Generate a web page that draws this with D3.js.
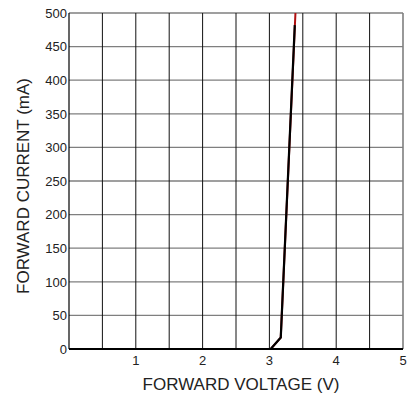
<!DOCTYPE html>
<html><head><meta charset="utf-8">
<script src="https://cdn.jsdelivr.net/npm/d3@7"></script>
<style>body{margin:0;background:#fff}svg{display:block}text{font-family:"Liberation Sans",Arial,sans-serif;fill:#222}</style>
</head><body>
<script>
const xTicks = [1, 2, 3, 4, 5];
const yTicks = [0, 50, 100, 150, 200, 250, 300, 350, 400, 450, 500];
const xGrid = [0.5, 1, 1.5, 2, 2.5, 3, 3.5, 4, 4.5, 5];
const voltageRed = [0, 3.02, 3.17, 3.39];
const currentRed = [0, 0, 17, 500];
const voltageBlack = [0, 3.02, 3.17, 3.38];
const currentBlack = [0, 0, 17, 482];

const W = 414, H = 401;
const m = {l: 69, r: 403, t: 13, b: 349};
const svg = d3.select("body").append("svg").attr("width", W).attr("height", H);
const x = d3.scaleLinear().domain([0, 5]).range([m.l, m.r]);
const y = d3.scaleLinear().domain([0, 500]).range([m.b, m.t]);

// horizontal grid
svg.append("g").selectAll("line").data(yTicks.filter(d => d > 0)).join("line")
  .attr("x1", m.l).attr("x2", m.r).attr("y1", d => y(d)).attr("y2", d => y(d))
  .attr("stroke", "#7f7f7f").attr("stroke-width", 1.3);
// vertical grid
svg.append("g").selectAll("line").data(xGrid).join("line")
  .attr("x1", d => x(d)).attr("x2", d => x(d)).attr("y1", m.t).attr("y2", m.b)
  .attr("stroke", d => d === 5 ? "#7f7f7f" : "#111").attr("stroke-width", d => d === 5 ? 1.6 : 1);
// left axis line
svg.append("line").attr("x1", m.l).attr("x2", m.l).attr("y1", m.t).attr("y2", m.b)
  .attr("stroke", "#000").attr("stroke-width", 1.2);

// y labels
svg.append("g").selectAll("text").data(yTicks).join("text")
  .attr("x", m.l - 2).attr("y", d => y(d) + 4.7).attr("text-anchor", "end")
  .attr("font-size", 13).text(d => d);
// x labels
svg.append("g").selectAll("text").data(xTicks).join("text")
  .attr("x", d => x(d)).attr("y", 365).attr("text-anchor", "middle")
  .attr("font-size", 13).text(d => d);

// curves
const line = d3.line().x(d => x(d[0])).y(d => y(d[1]));
svg.append("path").datum(d3.zip(voltageRed, currentRed)).attr("d", line)
  .attr("fill", "none").attr("stroke", "#b01010").attr("stroke-width", 2);
svg.append("path").datum(d3.zip(voltageBlack, currentBlack)).attr("d", line)
  .attr("fill", "none").attr("stroke", "#000").attr("stroke-width", 2.2);

// bottom axis line
svg.append("line").attr("x1", m.l).attr("x2", m.r).attr("y1", m.b).attr("y2", m.b)
  .attr("stroke", "#000").attr("stroke-width", 2.2);

// titles
svg.append("text").attr("x", 241).attr("y", 390).attr("text-anchor", "middle")
  .attr("font-size", 17).text("FORWARD VOLTAGE (V)");
svg.append("text").attr("transform", "translate(29,186) rotate(-90)").attr("text-anchor", "middle")
  .attr("font-size", 17).text("FORWARD CURRENT (mA)");
</script>
</body></html>
